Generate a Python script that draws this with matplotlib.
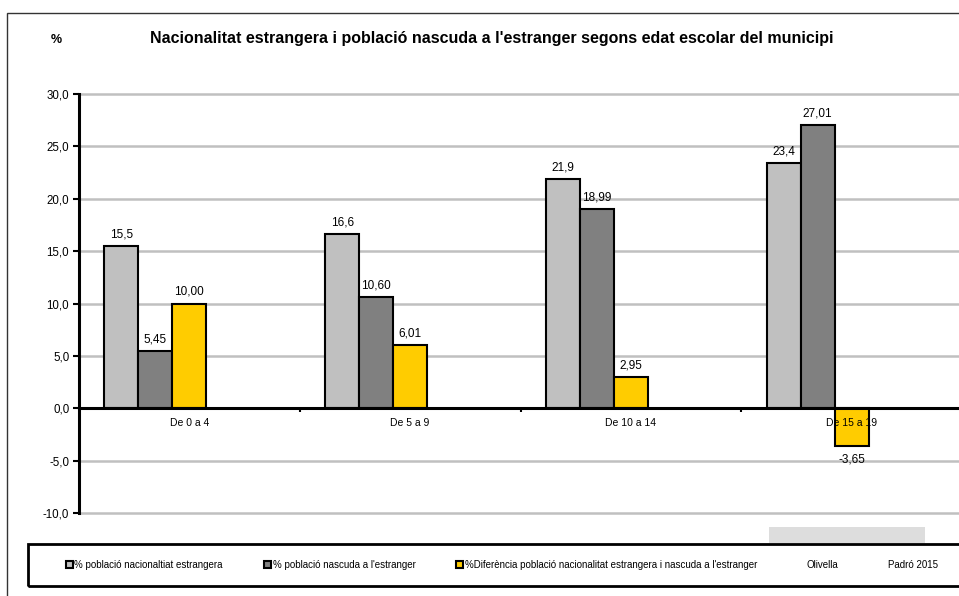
import numpy as np
import matplotlib
matplotlib.use('Agg')
import matplotlib.pyplot as plt
from matplotlib.patches import Rectangle

plt.rcParams['font.family'] = ['Liberation Sans', 'DejaVu Sans']

# Dades
categories = ['De 0 a 4', 'De 5 a 9', 'De 10 a 14', 'De 15 a 19']
nacionalitat = [15.5, 16.6, 21.9, 23.4]
nascuda = [5.45, 10.60, 18.99, 27.01]
diferencia = [10.00, 6.01, 2.95, -3.65]
yticks = [-10, -5, 0, 5, 10, 15, 20, 25, 30]

series_labels = ['% població nacionaltiat estrangera',
                 '% població nascuda a l\'estranger',
                 '%Diferència població nacionalitat estrangera i nascuda a l\'estranger',
                 'Olivella', 'Padró 2015']
colors = ['#C0C0C0', '#808080', '#FFCC00']
formats = ['{:.1f}', '{:.2f}', '{:.2f}']

W, H = 959, 596
fig = plt.figure(figsize=(W / 100, H / 100), dpi=100)

# marc exterior
fig.patches.append(Rectangle((7 / W, -0.1), 1.2, 1 - 13 / H + 0.1, transform=fig.transFigure,
                             fill=False, edgecolor='#333333', linewidth=1.0))

ax = fig.add_axes([79 / W, 1 - 513 / H, 883 / W, (513 - 94) / H])
ax.set_xlim(-0.5, 3.5)
ax.set_ylim(-10, 30)

# linies de graella (per sota de les barres)
for t in yticks:
    ax.axhline(t, color='#C0C0C0', linewidth=1.8, zorder=0, clip_on=False)

# 5 series a Excel (2 buides), amplada de barra
n_series = 5
w = 34 / 221
gap = 1 - n_series * w
x = np.arange(len(categories))
for k, (vals, col, fmt) in enumerate(zip([nacionalitat, nascuda, diferencia], colors, formats)):
    pos = x - 0.5 + gap / 2 + (k + 0.5) * w
    ax.bar(pos, vals, width=w, color=col, edgecolor='black', linewidth=1.5, zorder=1)
    for px, v in zip(pos, vals):
        txt = fmt.format(v).replace('.', ',')
        if v >= 0:
            ax.annotate(txt, (px, v), xytext=(0, 4), textcoords='offset points',
                        ha='center', va='bottom', fontsize=8.5, zorder=4)
        else:
            ax.annotate(txt, (px, v), xytext=(0, -5), textcoords='offset points',
                        ha='center', va='top', fontsize=8.5, zorder=4)

# eixos
ax.set_yticks(yticks)
ax.set_yticklabels([('%.1f' % t).replace('.', ',') for t in yticks], fontsize=8.3)
ax.tick_params(axis='y', direction='out', length=4, width=1.5, pad=3)

for s in ['top', 'right']:
    ax.spines[s].set_visible(False)
ax.spines['left'].set_linewidth(2.2)
ax.spines['bottom'].set_position(('data', 0))
ax.spines['bottom'].set_linewidth(2.2)

ax.set_xticks(x)
ax.set_xticklabels(categories, fontsize=7.5)
ax.set_xticks([0.5, 1.5, 2.5], minor=True)
ax.tick_params(axis='x', which='major', length=0, pad=7)
ax.tick_params(axis='x', which='minor', direction='out', length=3, width=1.5)

# titol
fig.text(492 / W, 1 - 38 / H, 'Nacionalitat estrangera i població nascuda a l\'estranger segons edat escolar del municipi',
         ha='center', va='center', fontsize=11.5, fontweight='bold')
fig.text(56 / W, 1 - 40 / H, '%', ha='center', va='center', fontsize=9, fontweight='bold')

# requadre gris
fig.patches.append(Rectangle((769 / W, 1 - 543 / H), 156 / W, 16 / H, transform=fig.transFigure,
                             facecolor='#DDDDDD', edgecolor='none'))

# llegenda
fig.patches.append(Rectangle((28 / W, 1 - 586 / H), 1.2, 42 / H, transform=fig.transFigure,
                             fill=False, edgecolor='black', linewidth=2))
handles = [Rectangle((0, 0), 1, 1, facecolor=c, edgecolor='black', linewidth=1.5) for c in colors]
handles += [Rectangle((0, 0), 1, 1, visible=False), Rectangle((0, 0), 1, 1, visible=False)]
fig.legend(handles, series_labels, loc='center', bbox_to_anchor=(502 / W, 1 - 565 / H),
           ncol=5, frameon=False, fontsize=7.0, handlelength=0.7, handleheight=0.7,
           handletextpad=0.2, columnspacing=4.2)

fig.savefig('out.png', dpi=100)
